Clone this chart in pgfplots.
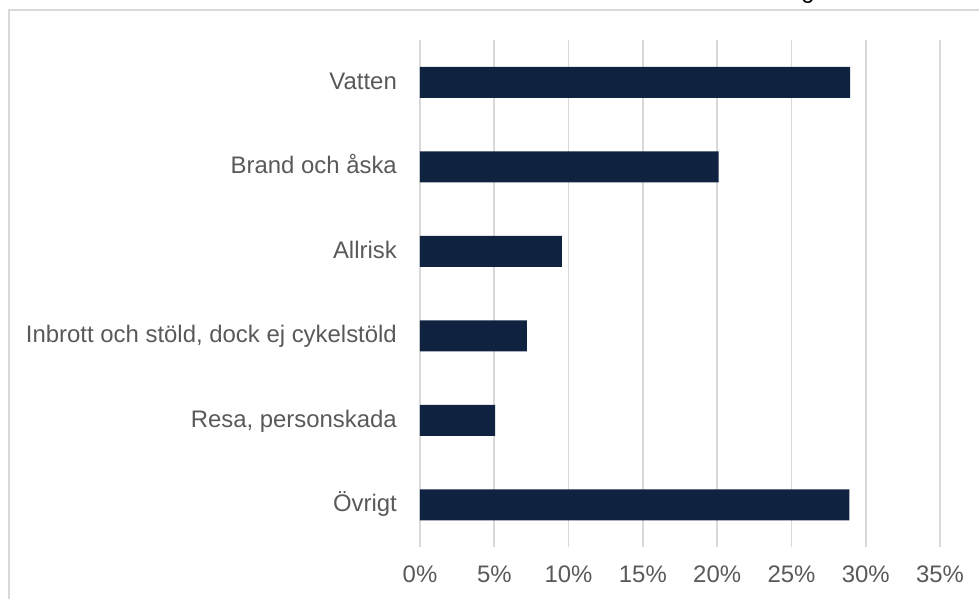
\documentclass[border=0pt]{standalone}
\usepackage{fontspec}
\setmainfont{Liberation Sans}
\usepackage{pgfplots}
\pgfplotsset{compat=1.18}
\definecolor{barblue}{HTML}{0F2341}
\definecolor{gridgray}{HTML}{D9D9D9}
\definecolor{textgray}{HTML}{595959}
\begin{document}
\begin{tikzpicture}
\path[use as bounding box] (0bp,0bp) rectangle (979bp,-599bp);
\draw[line width=2bp, gridgray] (9bp,-599bp) -- (9bp,-10bp) -- (979bp,-10bp);
\node[anchor=base, inner sep=0pt, font=\fontsize{24}{28}\selectfont, black] at (808bp,2bp) {g};
\begin{axis}[
  at={(420bp,-547bp)}, anchor=south west,
  width=520bp, height=507bp, scale only axis,
  xbar, bar width=31bp,
  xmin=0, xmax=35, ymin=-0.5, ymax=5.5,
  y dir=reverse,
  xtick={0,5,...,35},
  xticklabels={0\%,5\%,10\%,15\%,20\%,25\%,30\%,35\%},
  ytick={0,1,2,3,4,5},
  yticklabels={Vatten,Brand och åska,Allrisk,{Inbrott och stöld, dock ej cykelstöld},{Resa, personskada},Övrigt},
  xmajorgrids, ymajorgrids=false,
  grid style={line width=1.6bp, gridgray},
  axis line style={draw=none},
  tick style={draw=none},
  major tick length=0pt,
  tick label style={font=\fontsize{24}{28}\selectfont, text=textgray},
  xticklabel style={inner sep=0pt, anchor=base, yshift=-35.7bp},
  yticklabel style={inner sep=0pt, anchor=base east, xshift=-23bp, yshift=-7bp},
  clip=false,
]
\addplot[fill=barblue, draw=none] coordinates {
  (28.95,0) (20.1,1) (9.55,2) (7.2,3) (5.05,4) (28.9,5)
};
\end{axis}
\end{tikzpicture}
\end{document}
